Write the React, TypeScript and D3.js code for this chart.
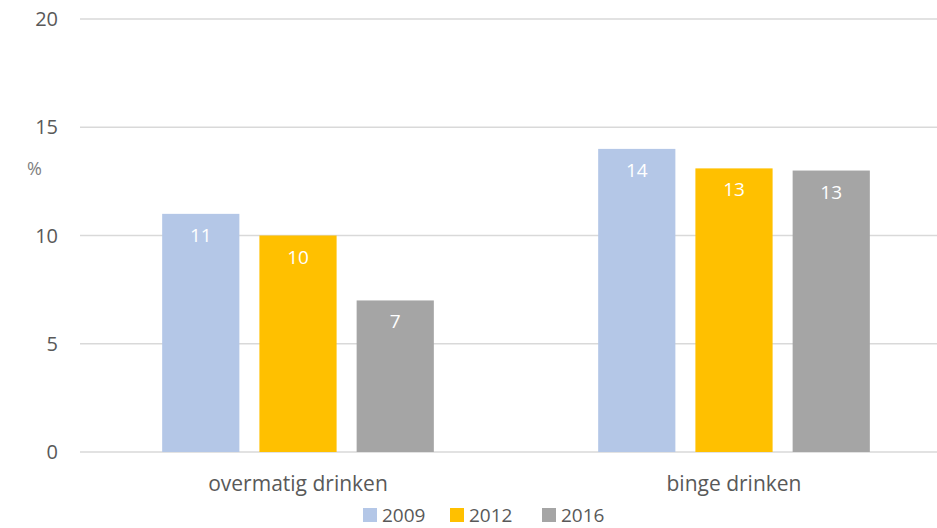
import React, { useEffect, useRef } from "react";
import * as d3 from "d3";

const categories = ["overmatig drinken", "binge drinken"];
const years = ["2009", "2012", "2016"];
const values2009 = [11, 14];
const values2012 = [10, 13.1];
const values2016 = [7, 13];
const yTicks = [0, 5, 10, 15, 20];
const colors = ["#B4C7E7", "#FFC000", "#A5A5A5"];

const App = () => {
  const ref = useRef<SVGSVGElement>(null);

  useEffect(() => {
    const svg = d3.select(ref.current);
    svg.selectAll("*").remove();

    const font = "'Open Sans', sans-serif";
    const series = [values2009, values2012, values2016];

    // scales
    const x0 = d3.scaleBand().domain(categories).range([80, 952]).padding(0);
    const x1 = d3.scaleBand().domain(years).range([0, x0.bandwidth()])
      .paddingInner(0.206).paddingOuter(0.845);
    const y = d3.scaleLinear().domain([0, 20]).range([452, 19]);

    // gridlines
    svg.append("g")
      .selectAll("line")
      .data(yTicks)
      .enter()
      .append("line")
      .attr("x1", 80)
      .attr("x2", 937)
      .attr("y1", d => y(d))
      .attr("y2", d => y(d))
      .attr("stroke", "#d9d9d9")
      .attr("stroke-width", 1.5);

    // y tick labels
    svg.append("g")
      .selectAll("text")
      .data(yTicks)
      .enter()
      .append("text")
      .attr("x", 58)
      .attr("y", d => y(d) + 7)
      .attr("text-anchor", "end")
      .attr("font-family", font)
      .attr("font-size", 20)
      .attr("fill", "#595959")
      .text(d => d);

    // unit label
    svg.append("text")
      .attr("x", 27)
      .attr("y", 175)
      .attr("font-family", font)
      .attr("font-size", 18)
      .attr("fill", "#7f7f7f")
      .text("%");

    // bars
    years.forEach((yr, i) => {
      const g = svg.append("g");
      g.selectAll("rect")
        .data(series[i])
        .enter()
        .append("rect")
        .attr("x", (d, j) => x0(categories[j])! + x1(yr)!)
        .attr("y", d => y(d))
        .attr("width", x1.bandwidth())
        .attr("height", d => y(0) - y(d))
        .attr("fill", colors[i]);

      g.selectAll("text")
        .data(series[i])
        .enter()
        .append("text")
        .attr("x", (d, j) => x0(categories[j])! + x1(yr)! + x1.bandwidth() / 2)
        .attr("y", d => y(d) + 28)
        .attr("text-anchor", "middle")
        .attr("font-family", font)
        .attr("font-size", 19)
        .attr("fill", "#ffffff")
        .text(d => Math.round(d));
    });

    // category labels
    svg.append("g")
      .selectAll("text")
      .data(categories)
      .enter()
      .append("text")
      .attr("x", d => x0(d)! + x0.bandwidth() / 2)
      .attr("y", 491)
      .attr("text-anchor", "middle")
      .attr("font-family", font)
      .attr("font-size", 21)
      .attr("fill", "#595959")
      .text(d => d);

    // legend
    const legendX = [363, 450, 542];
    const legend = svg.append("g")
      .selectAll("g")
      .data(years)
      .enter()
      .append("g")
      .attr("transform", (d, i) => `translate(${legendX[i]},508)`);
    legend.append("rect")
      .attr("width", 14)
      .attr("height", 14)
      .attr("fill", (d, i) => colors[i]);
    legend.append("text")
      .attr("x", 19)
      .attr("y", 14)
      .attr("font-family", font)
      .attr("font-size", 19)
      .attr("fill", "#595959")
      .text(d => d);
  }, []);

  return (
    <svg
      ref={ref}
      width={937}
      height={528}
      style={{ position: "absolute", left: 0, top: 0, background: "#fff" }}
    />
  );
};

export default App;
